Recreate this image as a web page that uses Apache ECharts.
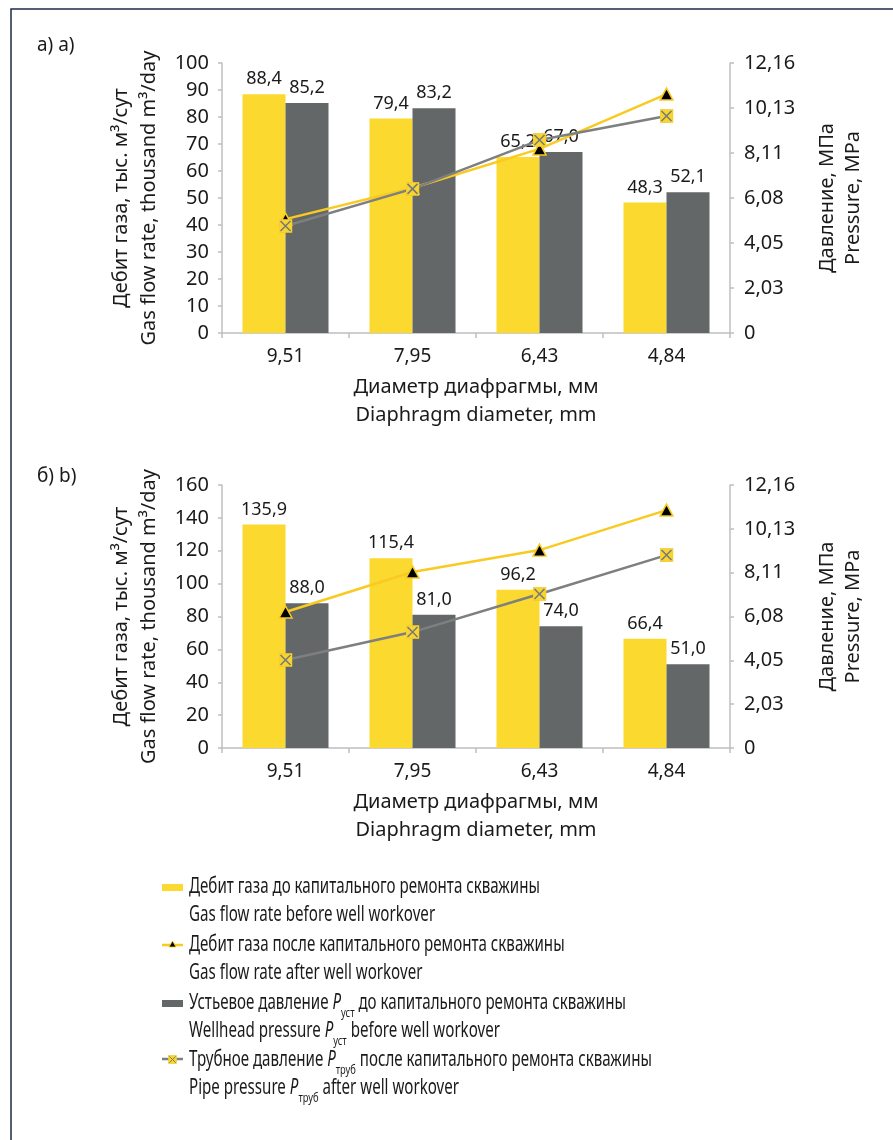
<!DOCTYPE html>
<html>
<head>
<meta charset="utf-8">
<script src="https://cdn.jsdelivr.net/npm/echarts@6/dist/echarts.min.js"></script>
<style>
  html, body { margin: 0; padding: 0; background: #fff; }
  #chart { width: 893px; height: 1140px; }
</style>
</head>
<body>
<div id="chart"></div>
<script>
// Diaphragm diameters, mm
const categories = ['9,51', '7,95', '6,43', '4,84'];

// Panel а) a)
const flowBeforeA = [88.4, 79.4, 65.2, 48.3];   // thousand m3/day
const wellheadA   = [85.2, 83.2, 67.0, 52.1];
const flowAfterA  = [5.13, 6.53, 8.29, 10.76];  // MPa axis
const pipeA       = [4.82, 6.49, 8.69, 9.77];

// Panel б) b)
const flowBeforeB = [135.9, 115.4, 96.2, 66.4];
const wellheadB   = [88.0, 81.0, 74.0, 51.0];
const flowAfterB  = [6.29, 8.14, 9.15, 11.00];
const pipeB       = [4.07, 5.36, 7.12, 8.92];

// Axis ranges
const leftMaxA = 100, leftStepA = 10;
const leftMaxB = 160, leftStepB = 20;
const pressureMax = 12.16, pressureSteps = 6;

const FONT = '"Noto Sans", "DejaVu Sans", sans-serif';
const INK = '#1a1a1a';
const AXIS = '#BFBFBF';
const YELLOW = '#FBD92E';
const GREY_BAR = '#636767';
const YELLOW_LINE = '#F8CA22';
const GREY_LINE = '#7E7F80';

const comma = (v, d) => v.toFixed(d).replace('.', ',');

// yellow square with a grey cross, used as the pipe-pressure marker
const crossSvg = "<svg xmlns='http://www.w3.org/2000/svg' width='28' height='28' viewBox='0 0 14 14'>" +
  "<rect x='0.4' y='0.4' width='13.2' height='13.2' fill='#F8D430' stroke='#EEC625' stroke-width='0.6'/>" +
  "<path d='M2 2L12 12M12 2L2 12' stroke='#76797a' stroke-width='1.5'/></svg>";
const crossImg = 'data:image/svg+xml;charset=utf-8,' + encodeURIComponent(crossSvg);

const chart = echarts.init(document.getElementById('chart'), null, { renderer: 'canvas' });

const grids = [], xAxes = [], yAxes = [], series = [];

function addPanel(idx, top, height, leftMax, leftStep, before, wellhead, after, pipe) {
  grids.push({ left: 222, right: 163, top: top, height: height, containLabel: false });
  xAxes.push({
    type: 'category', gridIndex: idx, data: categories,
    axisLine: { lineStyle: { color: AXIS, width: 1.5 } },
    axisTick: { show: true, length: 5, lineStyle: { color: AXIS, width: 1.5 } },
    axisLabel: { color: INK, fontSize: 19, fontFamily: FONT, margin: 14 },
    name: 'Диаметр диафрагмы, мм\nDiaphragm diameter, mm',
    nameLocation: 'middle', nameGap: 40,
    nameTextStyle: { color: INK, fontSize: 20, fontFamily: FONT, lineHeight: 28 }
  });
  yAxes.push({
    type: 'value', gridIndex: idx, position: 'left',
    min: 0, max: leftMax, interval: leftStep,
    axisLine: { show: true, lineStyle: { color: AXIS, width: 1.5 } },
    axisTick: { show: true, length: 4, lineStyle: { color: AXIS, width: 1.5 } },
    splitLine: { show: false },
    axisLabel: { color: INK, fontSize: 20, fontFamily: FONT, margin: 13 },
    name: 'Дебит газа, тыс. м³/сут\nGas flow rate, thousand m³/day',
    nameLocation: 'middle', nameRotate: 90, nameGap: 54,
    nameTextStyle: { color: INK, fontSize: 20, fontFamily: FONT, lineHeight: 28 }
  });
  yAxes.push({
    type: 'value', gridIndex: idx, position: 'right',
    min: 0, max: pressureMax, interval: pressureMax / pressureSteps,
    axisLine: { show: true, lineStyle: { color: AXIS, width: 1.5 } },
    axisTick: { show: true, length: 4, lineStyle: { color: AXIS, width: 1.5 } },
    splitLine: { show: false },
    axisLabel: {
      color: INK, fontSize: 20, fontFamily: FONT, margin: 14,
      formatter: v => (v === 0 ? '0' : comma(v, 2))
    },
    name: 'Давление, МПа\nPressure, MPa',
    nameLocation: 'middle', nameRotate: 90, nameGap: 84,
    nameTextStyle: { color: INK, fontSize: 20, fontFamily: FONT, lineHeight: 26 }
  });

  const barLabel = {
    show: true, position: 'top', distance: 6,
    color: INK, fontSize: 18, fontFamily: FONT,
    formatter: p => comma(p.value, 1)
  };
  series.push({
    name: 'Дебит газа до капитального ремонта скважины',
    type: 'bar', xAxisIndex: idx, yAxisIndex: 2 * idx,
    data: before, barWidth: 43, barGap: '0%',
    itemStyle: { color: YELLOW }, label: barLabel
  });
  series.push({
    name: 'Устьевое давление до капитального ремонта скважины',
    type: 'bar', xAxisIndex: idx, yAxisIndex: 2 * idx,
    data: wellhead, barWidth: 43, barGap: '0%',
    itemStyle: { color: GREY_BAR }, label: barLabel
  });
  series.push({
    name: 'Дебит газа после капитального ремонта скважины',
    type: 'line', xAxisIndex: idx, yAxisIndex: 2 * idx + 1,
    data: after, symbol: 'triangle', symbolSize: [13, 12],
    lineStyle: { color: YELLOW_LINE, width: 2.5 },
    itemStyle: { color: '#000', borderColor: YELLOW_LINE, borderWidth: 1.5 },
    z: 3
  });
  series.push({
    name: 'Трубное давление после капитального ремонта скважины',
    type: 'line', xAxisIndex: idx, yAxisIndex: 2 * idx + 1,
    data: pipe, symbol: 'image://' + crossImg, symbolSize: 14,
    lineStyle: { color: GREY_LINE, width: 2.5 },
    itemStyle: { color: GREY_LINE },
    z: 4
  });
}

addPanel(0, 63, 270, leftMaxA, leftStepA, flowBeforeA, wellheadA, flowAfterA, pipeA);
addPanel(1, 485, 263, leftMaxB, leftStepB, flowBeforeB, wellheadB, flowAfterB, pipeB);

// ---- legend drawn as graphic elements (two-line entries with subscripts) ----
const LEG_X = 189, ICON_X = 162, ICON_W = 21;
const legendRows = [
  { y: 887, text: '{t|Дебит газа до капитального ремонта скважины}' },
  { y: 915, text: '{t|Gas flow rate before well workover}' },
  { y: 945, text: '{t|Дебит газа после капитального ремонта скважины}' },
  { y: 973, text: '{t|Gas flow rate after well workover}' },
  { y: 1003, text: '{t|Устьевое давление }{i|P}{s|уст}{t| до капитального ремонта скважины}' },
  { y: 1031, text: '{t|Wellhead pressure }{i|P}{s|уст}{t| before well workover}' },
  { y: 1060, text: '{t|Трубное давление }{i|P}{s|труб}{t| после капитального ремонта скважины}' },
  { y: 1088, text: '{t|Pipe pressure }{i|P}{s|труб}{t| after well workover}' }
];
const richStyles = {
  t: { fontSize: 21, fontFamily: FONT, color: INK, lineHeight: 34 },
  i: { fontSize: 21, fontFamily: FONT, color: INK, fontStyle: 'italic', lineHeight: 34 },
  s: { fontSize: 13, fontFamily: FONT, color: INK, lineHeight: 13, verticalAlign: 'bottom' }
};

const graphics = [
  {
    type: 'rect', silent: true,
    shape: { x: 11, y: 9, width: 1000, height: 1200 },
    style: { fill: 'none', stroke: '#1c2b4a', lineWidth: 1.5 }
  },
  {
    type: 'text', x: 37, y: 46,
    style: { text: 'а) a)', font: '19px ' + FONT, fill: INK,
             align: 'left', textAlign: 'left', verticalAlign: 'middle', textVerticalAlign: 'middle' }
  },
  {
    type: 'text', x: 37, y: 477,
    style: { text: 'б) b)', font: '19px ' + FONT, fill: INK,
             align: 'left', textAlign: 'left', verticalAlign: 'middle', textVerticalAlign: 'middle' }
  },
  // legend icons
  { type: 'rect', shape: { x: ICON_X, y: 884, width: ICON_W, height: 7 }, style: { fill: YELLOW } },
  { type: 'line', shape: { x1: ICON_X, y1: 945, x2: ICON_X + ICON_W, y2: 945 }, style: { stroke: YELLOW_LINE, lineWidth: 2.5 } },
  { type: 'polygon', shape: { points: [[172.5, 941], [169, 947], [176, 947]] }, style: { fill: '#000', stroke: YELLOW_LINE, lineWidth: 0.8 } },
  { type: 'rect', shape: { x: ICON_X, y: 1000, width: ICON_W, height: 7 }, style: { fill: GREY_BAR } },
  { type: 'line', shape: { x1: ICON_X, y1: 1059, x2: ICON_X + ICON_W, y2: 1059 }, style: { stroke: GREY_LINE, lineWidth: 2.5 } },
  { type: 'image', style: { image: crossImg, x: 168, y: 1055, width: 9, height: 9 } }
];
legendRows.forEach(r => {
  graphics.push({
    type: 'text', x: LEG_X, y: r.y, scaleX: 0.72,
    style: {
      text: r.text, rich: richStyles, fill: INK,
      fontSize: 21, fontFamily: FONT, lineHeight: 34,
      align: 'left', textAlign: 'left', verticalAlign: 'middle', textVerticalAlign: 'middle'
    }
  });
});

chart.setOption({
  animation: false,
  backgroundColor: '#ffffff',
  textStyle: { fontFamily: FONT },
  grid: grids,
  xAxis: xAxes,
  yAxis: yAxes,
  series: series,
  graphic: { elements: graphics }
});
</script>
</body>
</html>
